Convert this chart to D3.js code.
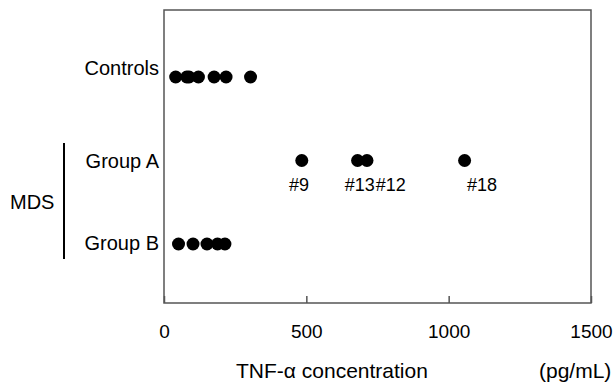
<!DOCTYPE html>
<html>
<head>
<meta charset="utf-8">
<script src="https://cdn.jsdelivr.net/npm/d3@7"></script>
<style>
  body { margin: 0; background: #fff; }
  text { font-family: Arial, "Liberation Sans", sans-serif; fill: #000; }
</style>
</head>
<body>
<div id="chart"></div>
<script>
// groups shown on the y axis
const groups = ["Controls", "Group A", "Group B"];

// TNF-alpha values (pg/mL)
const controls = [41, 80, 88, 121, 176, 218, 304];
const groupA = [484, 680, 713, 1056];
const groupB = [51, 102, 151, 188, 214];

// patient labels under the Group A dots, and where their text sits (pg/mL)
const patientLabels = ["#9", "#13", "#12", "#18"];
const patientLabelAt = [474, 688, 797, 1117];

const xTicks = [0, 500, 1000, 1500];

const width = 615;
const height = 384;
const margin = { top: 10, right: 24, bottom: 81, left: 164 };

const svg = d3.select("#chart")
    .append("svg")
    .attr("width", width)
    .attr("height", height);

const x = d3.scaleLinear()
    .domain([0, 1500])
    .range([margin.left, width - margin.right]);

const y = d3.scalePoint()
    .domain(groups)
    .range([77, 244]);

// plot frame
svg.append("rect")
    .attr("x", margin.left)
    .attr("y", margin.top)
    .attr("width", width - margin.left - margin.right)
    .attr("height", height - margin.top - margin.bottom)
    .attr("fill", "none")
    .attr("stroke", "#555")
    .attr("stroke-width", 1.5);

// x axis with ticks pointing into the plot
const xAxis = svg.append("g")
    .attr("transform", `translate(0,${height - margin.bottom})`)
    .call(d3.axisBottom(x)
        .tickValues(xTicks)
        .tickFormat(d3.format("d"))
        .tickSizeInner(-7)
        .tickSizeOuter(0));

xAxis.select(".domain").remove();
xAxis.selectAll(".tick line").attr("stroke", "#555").attr("stroke-width", 1.5);
xAxis.selectAll(".tick text")
    .attr("font-size", 19)
    .attr("font-family", "Arial, 'Liberation Sans', sans-serif")
    .attr("fill", "#000")
    .attr("dy", null)
    .attr("y", 35);

// category labels
const labelShift = { "Controls": -2, "Group A": 7, "Group B": 6 };
svg.append("g")
    .selectAll("text")
    .data(groups)
    .join("text")
    .attr("x", margin.left - 5)
    .attr("y", d => y(d) + labelShift[d])
    .attr("text-anchor", "end")
    .attr("font-size", 20)
    .text(d => d);

// MDS bracket
svg.append("line")
    .attr("x1", 64).attr("x2", 64)
    .attr("y1", 143).attr("y2", 259)
    .attr("stroke", "#000")
    .attr("stroke-width", 2);

svg.append("text")
    .attr("x", 10)
    .attr("y", 209)
    .attr("font-size", 20)
    .text("MDS");

// dots
const points = [
    ...controls.map(v => ({ group: "Controls", value: v })),
    ...groupA.map(v => ({ group: "Group A", value: v })),
    ...groupB.map(v => ({ group: "Group B", value: v }))
];

svg.append("g")
    .selectAll("circle")
    .data(points)
    .join("circle")
    .attr("cx", d => x(d.value))
    .attr("cy", d => y(d.group))
    .attr("r", 6.5)
    .attr("fill", "#000");

// patient numbers
svg.append("g")
    .selectAll("text")
    .data(patientLabels)
    .join("text")
    .attr("x", (d, i) => x(patientLabelAt[i]))
    .attr("y", y("Group A") + 30)
    .attr("text-anchor", "middle")
    .attr("font-size", 18)
    .text(d => d);

// axis title
svg.append("text")
    .attr("x", 236)
    .attr("y", 378)
    .attr("font-size", 21)
    .text("TNF-\u03b1 concentration");

svg.append("text")
    .attr("x", 539)
    .attr("y", 378)
    .attr("font-size", 21)
    .text("(pg/mL)");
</script>
</body>
</html>
